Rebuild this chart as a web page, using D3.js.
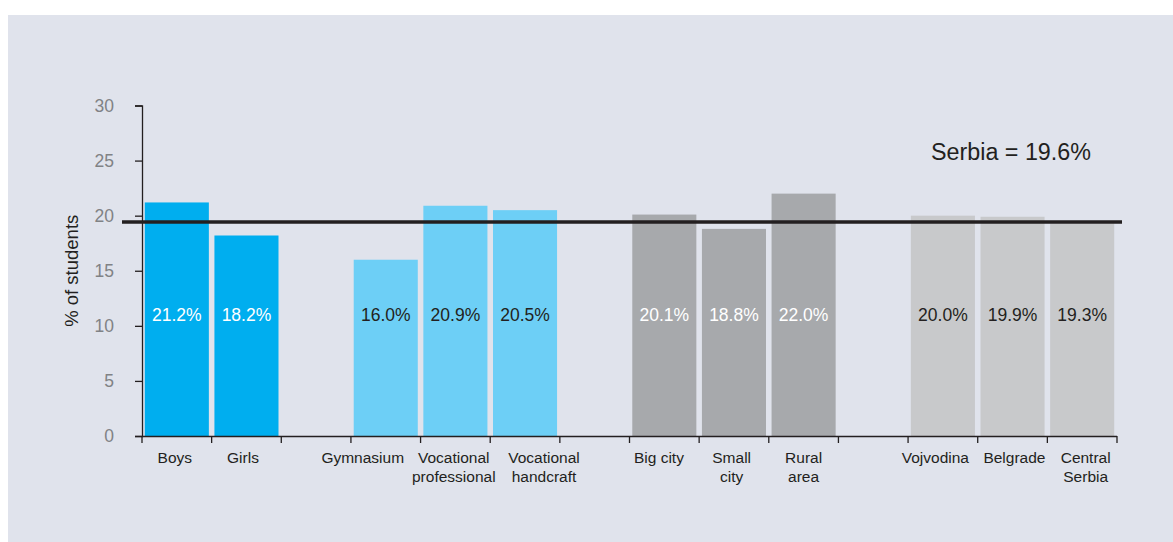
<!DOCTYPE html>
<html>
<head>
<meta charset="utf-8">
<script src="https://cdn.jsdelivr.net/npm/d3@7"></script>
<style>
  html, body { margin: 0; padding: 0; background: #ffffff; }
  svg { display: block; font-family: "Liberation Sans", Arial, sans-serif; }
</style>
</head>
<body>
<svg id="chart" width="1173" height="542"></svg>
<script>
// Share of students by group; blank slots separate the four groups
const slots = ["Boys", "Girls", "_gap1", "Gymnasium", "Vocational professional", "Vocational handcraft",
  "_gap2", "Big city", "Small city", "Rural area", "_gap3", "Vojvodina", "Belgrade", "Central Serbia"];
const categories = ["Boys", "Girls", "Gymnasium", "Vocational professional", "Vocational handcraft",
  "Big city", "Small city", "Rural area", "Vojvodina", "Belgrade", "Central Serbia"];
const tickLabels = [["Boys"], ["Girls"], [], ["Gymnasium"], ["Vocational", "professional"], ["Vocational", "handcraft"],
  [], ["Big city"], ["Small", "city"], ["Rural", "area"], [], ["Vojvodina"], ["Belgrade"], ["Central", "Serbia"]];
const values = [21.2, 18.2, 16.0, 20.9, 20.5, 20.1, 18.8, 22.0, 20.0, 19.9, 19.3];
const groups = ["gender", "gender", "school", "school", "school", "place", "place", "place", "region", "region", "region"];
const serbiaValue = 19.6;
const yTicks = [0, 5, 10, 15, 20, 25, 30];

const groupFill = { gender: "#00aeef", school: "#6dcff6", place: "#a7a9ac", region: "#c8c9cb" };
const groupText = { gender: "#ffffff", school: "#231f20", place: "#ffffff", region: "#231f20" };

// horizontal nudges (px) so neighbouring category labels don't collide
const labelNudge = [-2, -3.5, 0, -23, -1.6, 19, 0, -5.4, -2.3, 0, 0, -7.5, 1.9, 3.5];

const svg = d3.select("#chart");

// panel background
svg.append("rect").attr("x", 8).attr("y", 15).attr("width", 1165).attr("height", 527).attr("fill", "#e0e3ec");

const x = d3.scaleBand().domain(slots).range([142, 1117]).paddingInner(0.08).paddingOuter(0.04);
const y = d3.scaleLinear().domain([0, 30]).range([436, 105.5]);

const data = categories.map((c, i) => ({ cat: c, value: values[i], group: groups[i] }));

// bars
svg.append("g").selectAll("rect").data(data).join("rect")
  .attr("x", d => x(d.cat))
  .attr("width", x.bandwidth())
  .attr("y", d => y(d.value))
  .attr("height", d => y(0) - y(d.value))
  .attr("fill", d => groupFill[d.group]);

// value labels inside bars
svg.append("g").selectAll("text").data(data).join("text")
  .attr("x", d => x(d.cat) + x.bandwidth() / 2)
  .attr("y", y(11) + 6)
  .attr("text-anchor", "middle")
  .attr("font-size", 17.5)
  .attr("fill", d => groupText[d.group])
  .text(d => d.value.toFixed(1) + "%");

// y axis
const yAxis = svg.append("g").attr("transform", "translate(142,0)")
  .call(d3.axisLeft(y).tickValues(yTicks).tickSize(7).tickPadding(21));
yAxis.select(".domain").attr("stroke", "#231f20").attr("stroke-width", 1.3);
yAxis.selectAll(".tick line").attr("stroke", "#231f20").attr("stroke-width", 1.3);
yAxis.selectAll(".tick text").attr("font-size", 17.5).attr("fill", "#808285")
  .attr("font-family", "Liberation Sans, Arial, sans-serif");

// x axis: ticks at slot boundaries
const bounds = d3.range(slots.length + 1).map(i => 142 + i * (1117 - 142) / slots.length);
const xg = svg.append("g");
xg.append("line").attr("x1", 142).attr("x2", 1117).attr("y1", 436.5).attr("y2", 436.5)
  .attr("stroke", "#231f20").attr("stroke-width", 1.3);
xg.selectAll("line.tk").data(bounds).join("line").attr("class", "tk")
  .attr("x1", d => d).attr("x2", d => d).attr("y1", 436).attr("y2", 443)
  .attr("stroke", "#231f20").attr("stroke-width", 1.3);

// category labels
const lab = svg.append("g").selectAll("text").data(slots.map((s, i) => ({ s, lines: tickLabels[i], dx: labelNudge[i] })))
  .join("text")
  .attr("text-anchor", "middle")
  .attr("font-size", 15.5)
  .attr("fill", "#231f20");
lab.each(function(d) {
  const cx = x(d.s) + x.bandwidth() / 2 + d.dx;
  d3.select(this).selectAll("tspan").data(d.lines).join("tspan")
    .attr("x", cx)
    .attr("y", (l, j) => 462.5 + j * 19)
    .text(l => l);
});

// axis title
svg.append("text")
  .attr("transform", "translate(78," + y(15) + ") rotate(-90)")
  .attr("text-anchor", "middle")
  .attr("font-size", 18.5)
  .attr("fill", "#231f20")
  .text("% of students");

// national average line
svg.append("line")
  .attr("x1", 122).attr("x2", 1122)
  .attr("y1", y(serbiaValue) + 2).attr("y2", y(serbiaValue) + 2)
  .attr("stroke", "#231f20").attr("stroke-width", 3.5);

svg.append("text")
  .attr("x", 1011).attr("y", 160)
  .attr("text-anchor", "middle")
  .attr("font-size", 23.3)
  .attr("fill", "#231f20")
  .text("Serbia = " + serbiaValue.toFixed(1) + "%");
</script>
</body>
</html>
